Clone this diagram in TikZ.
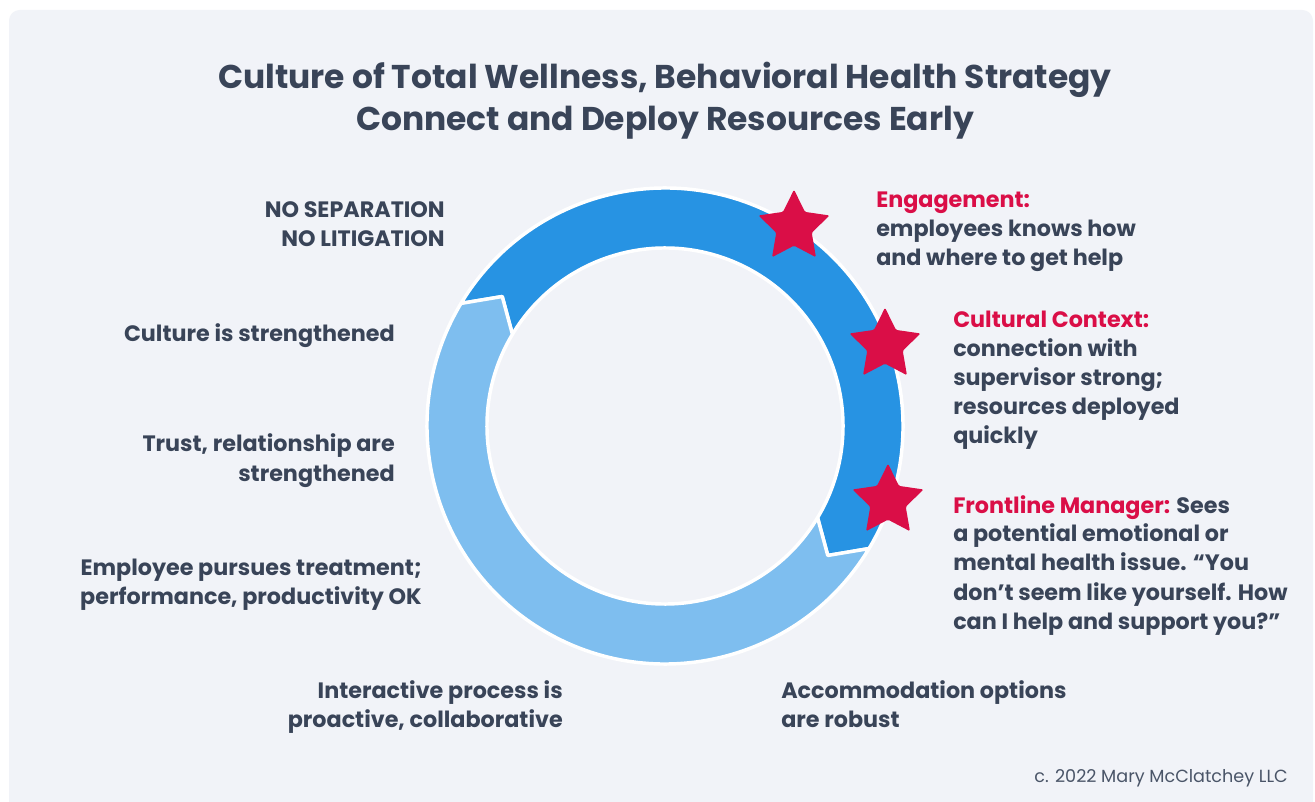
\documentclass[tikz,border=0pt]{standalone}
\usepackage{fontspec}
\setmainfont{Poppins}
\usetikzlibrary{shapes.geometric}
\definecolor{bgpanel}{HTML}{F1F3F8}
\definecolor{ink}{HTML}{394458}
\definecolor{crim}{HTML}{DA0E47}
\definecolor{darkblue}{HTML}{2793E3}
\definecolor{lightblue}{HTML}{7EBEEF}
\definecolor{copyink}{HTML}{4A5568}
\begin{document}
\begin{tikzpicture}[x=0.75pt,y=0.75pt,
  seg/.style={draw=white,line width=2.6pt,line join=round},
  redstar/.style={star,star points=5,star point ratio=2.0,fill=crim,draw=none,
    minimum size=56pt,inner sep=0pt,rounded corners=1pt},
  lbl/.style={font=\fontsize{16.7}{21.75}\selectfont\bfseries,text=ink,inner sep=0pt},
  ttl/.style={font=\fontsize{24.7}{31.5}\selectfont\bfseries,text=ink,inner sep=0pt,align=center},
  cpy/.style={font=\fontsize{13.2}{16}\selectfont,text=copyink,inner sep=0pt}]
\useasboundingbox (0,0) rectangle (1315,801);
\fill[white] (0,0) rectangle (1315,801);
\fill[bgpanel,rounded corners=8pt] (9,-20) rectangle (1313,791);
% ring
\begin{scope}[shift={(665,375)}]
\path[seg,fill=darkblue] (149:238) arc[start angle=149,end angle=-31,radius=238]
  -- (-38.5:208) -- (-31:178) arc[start angle=-31,end angle=149,radius=178]
  -- (141.5:208) -- cycle;
\path[seg,fill=lightblue] (-31:238) arc[start angle=-31,end angle=-211,radius=238]
  -- (-218.5:208) -- (-211:178) arc[start angle=-211,end angle=-31,radius=178]
  -- (-38.5:208) -- cycle;
\end{scope}
% stars
\node[redstar] (s1) at (794,574) {};
\node[redstar] (s2) at (885,456) {};
\node[redstar] (s3) at (888,300) {};
% title (anchor = baseline of last line)
\node[ttl,anchor=base] (title) at (665,670) {Culture of Total Wellness, Behavioral Health Strategy\\Connect and Deploy Resources Early};
% left labels
\node[lbl,anchor=base east,align=right] (nosep) at (445,554) {NO SEPARATION\\NO LITIGATION};
\node[lbl,anchor=base east,align=right] (cult) at (395,459) {Culture is strengthened};
\node[lbl,anchor=base east,align=right] (trust) at (395,320) {Trust, relationship are\\strengthened};
\node[lbl,anchor=base east,align=right] (empl) at (422,197) {Employee pursues treatment;\\performance, productivity OK};
\node[lbl,anchor=base east,align=right] (inter) at (563,74) {Interactive process is\\proactive, collaborative};
% right labels
\node[lbl,anchor=base west,align=left] (accom) at (781,74) {Accommodation options\\are robust};
\node[lbl,anchor=base west,align=left] (eng) at (876,535) {\textcolor{crim}{Engagement:}\\employees knows how\\and where to get help};
\node[lbl,anchor=base west,align=left] (ctx) at (953,357) {\textcolor{crim}{Cultural Context:}\\connection with\\supervisor strong;\\resources deployed\\quickly};
\node[lbl,anchor=base west,align=left] (front) at (953,172) {\textcolor{crim}{Frontline Manager:} Sees\\a potential emotional or\\mental health issue. “You\\don’t seem like yourself. How\\can I help and support you?”};
% copyright
\node[cpy,anchor=base east] (copy) at (1288,19) {c. 2022 Mary McClatchey LLC};
\end{tikzpicture}
\end{document}
